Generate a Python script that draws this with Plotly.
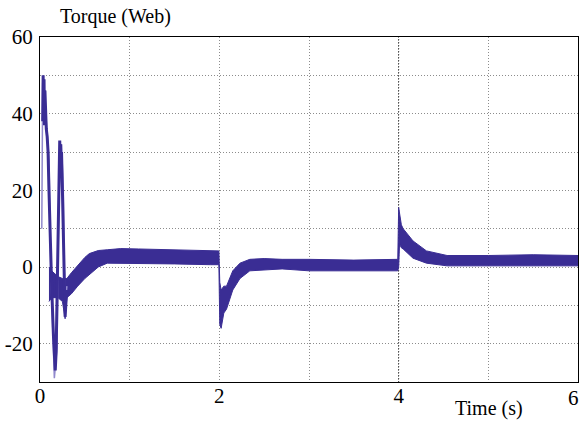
import plotly.graph_objects as go

# Envelope of the noisy torque band (time s, lower, upper)
band_t  = [0.10, 0.13, 0.20, 0.25, 0.28, 0.30, 0.35, 0.42, 0.50, 0.55, 0.65, 0.75, 0.90, 1.10, 1.50, 1.90, 1.995,
           2.005, 2.02, 2.05, 2.08, 2.15, 2.23, 2.34, 2.50, 2.70, 3.00, 3.50, 3.99,
           4.00, 4.01, 4.03, 4.05, 4.16, 4.31, 4.54, 5.00, 5.50, 6.00]
band_lo = [-9.0, -8.0, -8.0, -9.0, -13.5, -8.0, -7.0, -5.0, -3.0, -2.0, 0.0, 1.0, 1.0, 1.0, 0.8, 0.6, 0.6,
           -15.0, -16.0, -12.0, -11.0, -6.0, -3.0, -1.0, -0.8, -0.5, -1.0, -1.0, -1.0,
           0.0, 6.0, 5.0, 4.7, 2.3, 1.0, 0.3, 0.3, 0.3, 0.3]
band_hi = [0.0, -1.0, -2.5, -3.0, -3.0, -3.0, -1.5, 0.5, 2.5, 3.5, 4.3, 4.5, 4.8, 4.7, 4.5, 4.2, 4.2,
           -4.0, -6.0, -5.0, -5.0, -1.0, 1.0, 2.0, 2.2, 2.0, 2.0, 1.8, 2.0,
           15.5, 14.0, 11.0, 10.0, 6.8, 4.2, 3.0, 3.0, 3.2, 3.0]

# Start-up transient, dark heavy trace
tr_dark_t = [0.03, 0.035, 0.04, 0.045, 0.05, 0.055, 0.06, 0.065, 0.07, 0.08, 0.09, 0.10, 0.11, 0.12, 0.13,
             0.15, 0.17, 0.18, 0.19, 0.20, 0.215, 0.22, 0.225, 0.23, 0.235, 0.24, 0.25, 0.26, 0.27, 0.28, 0.29, 0.30]
tr_dark_y = [38, 50, 42, 49, 37, 46, 40, 44, 36, 34, 30, 20, 10, 2, -5,
             -18, -27, -22, -6, 10, 26, 33, 27, 32, 26, 30, 20, 5, -6, -13, -9, -6]

# Start-up transient, light thin trace
tr_light_t = [0.02, 0.025, 0.03, 0.05, 0.07, 0.10, 0.12, 0.14, 0.16, 0.175, 0.19, 0.20, 0.21, 0.24, 0.26, 0.27, 0.28, 0.30]
tr_light_y = [10, 40, 48, 45, 38, 28, 0, -15, -29, -25, -21, 0, 18, 32, 20, 0, -10, -5]

x_ticks = [0, 1, 2, 3, 4, 5, 6]
x_labels = ["0", "", "2", "", "4", "", ""]
x_last_label = "6"
y_ticks = [-30, -20, -10, 0, 10, 20, 30, 40, 50, 60]
y_labels = ["", "-20", "", "0", "", "20", "", "40", "", "60"]

DARK = "rgb(58,45,148)"
LIGHT = "rgb(145,137,205)"

fig = go.Figure()

fig.add_trace(go.Scatter(
    x=band_t + band_t[::-1],
    y=band_hi + band_lo[::-1],
    fill="toself", fillcolor=DARK,
    line=dict(color=DARK, width=1),
    mode="lines", hoverinfo="skip", showlegend=False))

fig.add_trace(go.Scatter(x=tr_light_t, y=tr_light_y, mode="lines",
                         line=dict(color=LIGHT, width=1.5), showlegend=False))
fig.add_trace(go.Scatter(x=tr_dark_t, y=tr_dark_y, mode="lines",
                         line=dict(color=DARK, width=3), showlegend=False))

FAM = "Liberation Serif"
font = dict(family=FAM, size=21, color="black")

fig.update_layout(
    width=581, height=421,
    margin=dict(l=40, r=3, t=37, b=39, autoexpand=False),
    paper_bgcolor="white", plot_bgcolor="white",
    font=font,
    showlegend=False,
    xaxis=dict(range=[0, 6], tickvals=x_ticks, ticktext=x_labels, automargin=False,
               showgrid=True, gridcolor="#8c8c8c", griddash="1px,2px", gridwidth=1,
               showline=True, linecolor="black", linewidth=1, mirror=True,
               zeroline=False, ticks="", tickfont=font, ticklabeloverflow="allow",
               ticklabelstandoff=-5),
    yaxis=dict(range=[-30, 60], tickvals=y_ticks, ticktext=y_labels, automargin=False,
               showgrid=True, gridcolor="#8c8c8c", griddash="1px,2px", gridwidth=1,
               showline=True, linecolor="black", linewidth=1, mirror=True,
               zeroline=False, ticks="", tickfont=font, ticklabelstandoff=2),
)

# darker dotted grid line at t = 4 s
fig.add_shape(type="line", xref="x", yref="paper", x0=4, x1=4, y0=0, y1=1,
              line=dict(color="#333333", width=1, dash="1px,2px"), layer="below")

# last x tick label, kept inside the page edge
fig.add_annotation(text=x_last_label, xref="x", yref="paper", x=x_ticks[-1],
                   y=-(398 - 382) / 345, xanchor="right", yanchor="middle", xshift=3,
                   showarrow=False, font=font)

fig.add_annotation(text="Torque (Web)", xref="paper", yref="paper",
                   x=(115 - 40) / 538, y=1 + (37 - 17) / 345, yanchor="middle", xanchor="center",
                   showarrow=False, font=dict(family=FAM, size=20, color="black"))
fig.add_annotation(text="Time (s)", xref="paper", yref="paper",
                   x=(489 - 40) / 538, y=-(408 - 382) / 345, yanchor="middle", xanchor="center",
                   showarrow=False, font=dict(family=FAM, size=20, color="black"))

fig.write_html("out.html", config={"displayModeBar": False},
               post_script="document.body.style.margin='0';")
